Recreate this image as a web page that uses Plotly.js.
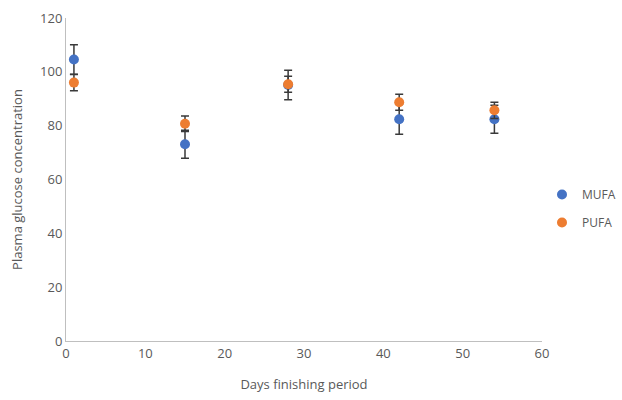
<!DOCTYPE html>
<html><head><meta charset="utf-8">
<script src="https://cdn.plot.ly/plotly-3.0.1.min.js"></script>
<style>html,body{margin:0;padding:0;background:#fff}#chart{width:622px;height:400px}</style>
</head><body><div id="chart"></div>
<script>
const days = [1, 15, 28, 42, 54];
const mufa = [104.6, 73.1, 95.1, 82.4, 82.4];
const mufaErr = [5.5, 5.2, 5.5, 5.6, 5.2];
const pufa = [96.0, 80.7, 95.4, 88.7, 85.7];
const pufaErr = [3.0, 2.9, 3.0, 3.0, 3.0];
const seriesNames = ['MUFA', 'PUFA'];

const errStyle = {type:'data', visible:true, color:'#3a3a3a', thickness:1.5, width:4};
const traces = [
  {x: days, y: mufa, name: seriesNames[0], legendgroup:'a', type:'scatter', mode:'markers',
   marker:{color:'#4472C4', size:10},
   error_y: Object.assign({array: mufaErr}, errStyle)},
  {x: days, y: pufa, name: seriesNames[1], legendgroup:'b', type:'scatter', mode:'markers',
   marker:{color:'#ED7D31', size:10},
   error_y: Object.assign({array: pufaErr}, errStyle)}
];
const fnt = {family:'Open Sans, Liberation Sans, sans-serif', size:13, color:'#595959'};
const layout = {
  width:622, height:400,
  margin:{l:66, r:80, t:18, b:59, autoexpand:false},
  paper_bgcolor:'#fff', plot_bgcolor:'#fff',
  font: fnt,
  showlegend:true,
  legend:{x:1.0, y:0.41, xanchor:'left', yanchor:'middle', traceorder:'grouped', tracegroupgap:9,
    font:{family:fnt.family, size:12, color:'#595959'}, itemwidth:30},
  xaxis:{range:[0,60], dtick:10, tick0:0, showgrid:false, zeroline:false, showline:true, linecolor:'#bfbfbf', linewidth:1, ticks:'', ticklen:0,
    tickfont:{size:13, color:'#595959'}, automargin:false,
    title:{text:'Days finishing period', font:{size:13, color:'#595959'}, standoff:19}},
  yaxis:{range:[0,120], dtick:20, tick0:0, showgrid:false, zeroline:false, showline:true, linecolor:'#bfbfbf', linewidth:1, ticks:'', ticklen:0,
    tickfont:{size:13, color:'#595959'}, automargin:false,
    title:{text:'Plasma glucose concentration', font:{size:13, color:'#595959'}, standoff:14}}
};
Plotly.newPlot('chart', traces, layout, {displayModeBar:false, staticPlot:true});
</script>
</body></html>
